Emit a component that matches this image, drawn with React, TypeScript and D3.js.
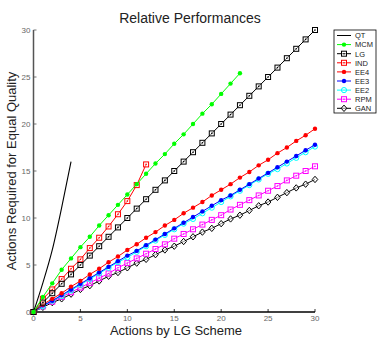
import { useEffect, useRef } from 'react';
import * as d3 from 'd3';

const xTicks = [0, 5, 10, 15, 20, 25, 30];
const yTicks = [0, 5, 10, 15, 20, 25, 30];

const qtX = [0, 1, 2, 3, 4];
const qtY = [0, 3.1, 6.6, 11.1, 16];

const mcmY = [0, 1.6, 3.05, 4.5, 5.7, 6.9, 8.0, 9.2, 10.3, 11.4, 12.5, 13.6, 14.7, 15.8, 16.8, 17.9, 18.9, 20.0, 21.1, 22.1, 23.2, 24.3, 25.4];
const lgY = [0, 1, 2, 3, 4, 5, 6, 7, 8, 9, 10, 11, 12, 13, 14, 15, 16, 17, 18, 19, 20, 21, 22, 23, 24, 25, 26, 27, 28, 29, 30];
const indY = [0, 1.4, 2.4, 3.5, 4.6, 5.6, 6.8, 7.9, 9.1, 10.4, 11.8, 13.5, 15.7];
const ee4Y = [0, 0.8, 1.4, 2.0, 2.7, 3.3, 4.0, 4.6, 5.3, 5.9, 6.6, 7.2, 7.9, 8.5, 9.2, 9.8, 10.5, 11.1, 11.7, 12.4, 13.0, 13.6, 14.3, 14.9, 15.6, 16.2, 16.9, 17.5, 18.2, 18.8, 19.5];
const ee3Y = [0, 0.7, 1.2, 1.8, 2.4, 3.0, 3.6, 4.2, 4.8, 5.4, 6.0, 6.5, 7.1, 7.7, 8.3, 8.9, 9.5, 10.1, 10.7, 11.3, 11.9, 12.4, 13.0, 13.6, 14.2, 14.8, 15.4, 16.0, 16.6, 17.2, 17.8];
const ee2Y = [0, 0.6, 1.2, 1.7, 2.3, 2.9, 3.5, 4.1, 4.7, 5.3, 5.8, 6.4, 7.0, 7.6, 8.2, 8.8, 9.4, 9.9, 10.5, 11.1, 11.7, 12.3, 12.9, 13.5, 14.1, 14.7, 15.2, 15.8, 16.4, 17.0, 17.6];
const rpmY = [0, 0.6, 1.1, 1.6, 2.1, 2.6, 3.1, 3.6, 4.1, 4.7, 5.2, 5.7, 6.2, 6.7, 7.2, 7.8, 8.3, 8.8, 9.3, 9.8, 10.3, 10.9, 11.4, 11.9, 12.4, 12.9, 13.4, 14.0, 14.5, 15.0, 15.5];
const ganY = [0, 0.5, 1.0, 1.4, 1.9, 2.4, 2.8, 3.3, 3.8, 4.2, 4.7, 5.2, 5.6, 6.1, 6.6, 7.0, 7.5, 8.0, 8.5, 8.9, 9.4, 9.9, 10.3, 10.8, 11.3, 11.7, 12.2, 12.7, 13.2, 13.6, 14.1];

type Marker = 'none' | 'dot' | 'square' | 'circle' | 'diamond';

interface Series {
    name: string;
    color: string;
    marker: Marker;
    values: number[];
}

const series: Series[] = [
    { name: 'MCM', color: '#00ff00', marker: 'dot', values: mcmY },
    { name: 'LG', color: '#000000', marker: 'square', values: lgY },
    { name: 'IND', color: '#ff0000', marker: 'square', values: indY },
    { name: 'EE4', color: '#ff0000', marker: 'dot', values: ee4Y },
    { name: 'EE3', color: '#0000ff', marker: 'dot', values: ee3Y },
    { name: 'EE2', color: '#00ffff', marker: 'circle', values: ee2Y },
    { name: 'RPM', color: '#ff00ff', marker: 'square', values: rpmY },
    { name: 'GAN', color: '#000000', marker: 'diamond', values: ganY },
];

const legendItems = [
    { name: 'QT', color: '#000000', marker: 'none' as Marker },
    ...series.map(s => ({ name: s.name, color: s.color, marker: s.marker })),
];

const width = 377;
const height = 339;

function drawMarker(g: any, m: Marker, cx: number, cy: number, color: string) {
    if (m === 'dot') {
        g.append('circle').attr('cx', cx).attr('cy', cy).attr('r', 2.2).attr('fill', color);
    } else if (m === 'square') {
        g.append('rect').attr('x', cx - 2.5).attr('y', cy - 2.5).attr('width', 5).attr('height', 5)
            .attr('fill', 'white').attr('fill-opacity', 0.5).attr('stroke', color).attr('stroke-width', 1);
        g.append('circle').attr('cx', cx).attr('cy', cy).attr('r', 0.8).attr('fill', color);
    } else if (m === 'circle') {
        g.append('circle').attr('cx', cx).attr('cy', cy).attr('r', 2.6)
            .attr('fill', 'none').attr('stroke', color).attr('stroke-width', 1);
    } else if (m === 'diamond') {
        g.append('path').attr('d', `M${cx},${cy - 3.2}L${cx + 2.8},${cy}L${cx},${cy + 3.2}L${cx - 2.8},${cy}Z`)
            .attr('fill', 'white').attr('fill-opacity', 0.5).attr('stroke', color).attr('stroke-width', 1);
    }
}

export default function App() {
    const svgRef = useRef<SVGSVGElement>(null);

    useEffect(() => {
        if (!svgRef.current) return;
        const svg = d3.select(svgRef.current);
        svg.selectAll('*').remove();

        const x = d3.scaleLinear().domain([0, 30]).range([33.5, 315]);
        const y = d3.scaleLinear().domain([0, 30]).range([312, 30]);

        const font = 'Liberation Sans, Arial, sans-serif';

        // titulo
        svg.append('text').attr('x', 190).attr('y', 23).attr('text-anchor', 'middle')
            .style('font-family', font).style('font-size', '14px').attr('fill', '#222')
            .text('Relative Performances');

        // eixos
        const axes = svg.append('g');
        axes.append('line').attr('x1', x(0)).attr('x2', x(0)).attr('y1', y(30)).attr('y2', y(0))
            .attr('stroke', '#555').attr('stroke-width', 1.5);
        axes.append('line').attr('x1', x(0)).attr('x2', x(30)).attr('y1', y(0)).attr('y2', y(0))
            .attr('stroke', '#000').attr('stroke-width', 1.5);

        xTicks.forEach(t => {
            axes.append('line').attr('x1', x(t)).attr('x2', x(t)).attr('y1', y(0)).attr('y2', y(0) - 3)
                .attr('stroke', '#000').attr('stroke-width', 0.8);
            axes.append('text').attr('x', x(t)).attr('y', y(0) + 8.5).attr('text-anchor', 'middle')
                .style('font-family', font).style('font-size', '8px').attr('fill', '#666').text(t);
        });
        yTicks.forEach(t => {
            axes.append('line').attr('x1', x(0)).attr('x2', x(0) + 3).attr('y1', y(t)).attr('y2', y(t))
                .attr('stroke', '#555').attr('stroke-width', 0.8);
            axes.append('text').attr('x', x(0) - 3).attr('y', y(t) + 3).attr('text-anchor', 'end')
                .style('font-family', font).style('font-size', '8px').attr('fill', '#666').text(t);
        });

        // rotulos
        svg.append('text').attr('x', 176).attr('y', 335).attr('text-anchor', 'middle')
            .style('font-family', font).style('font-size', '13px').attr('fill', '#222')
            .text('Actions by LG Scheme');
        svg.append('text').attr('transform', `translate(16,${171}) rotate(-90)`).attr('text-anchor', 'middle')
            .style('font-family', font).style('font-size', '13px').attr('fill', '#222')
            .text('Actions Required for Equal Quality');

        // QT
        const qtLine = d3.line<number>().x((_, i) => x(qtX[i])).y(d => y(d)).curve(d3.curveMonotoneX);
        svg.append('path').datum(qtY).attr('d', qtLine).attr('fill', 'none')
            .attr('stroke', '#000').attr('stroke-width', 1.1);

        // series (desenhar de tras para frente)
        const line = d3.line<number>().x((_, i) => x(i)).y(d => y(d));
        [...series].reverse().forEach(s => {
            const g = svg.append('g');
            g.append('path').datum(s.values).attr('d', line).attr('fill', 'none')
                .attr('stroke', s.color).attr('stroke-width', 1);
            s.values.forEach((v, i) => drawMarker(g, s.marker, x(i), y(v), s.color));
        });

        // legenda
        const lg = svg.append('g').attr('transform', 'translate(334,30)');
        lg.append('rect').attr('x', 0).attr('y', 0).attr('width', 42).attr('height', 83)
            .attr('fill', 'white').attr('stroke', '#000').attr('stroke-width', 0.8);
        legendItems.forEach((item, i) => {
            const cy = 5.5 + i * 9.1;
            lg.append('line').attr('x1', 3).attr('x2', 17).attr('y1', cy).attr('y2', cy)
                .attr('stroke', item.color).attr('stroke-width', 1);
            drawMarker(lg, item.marker, 10, cy, item.color);
            lg.append('text').attr('x', 21).attr('y', cy + 2.8)
                .style('font-family', font).style('font-size', '7.5px').attr('fill', '#222').text(item.name);
        });
    }, []);

    return (
        <svg
            ref={svgRef}
            width={width}
            height={height}
            style={{ position: 'absolute', left: 0, top: 0, background: 'white' }}
        />
    );
}
